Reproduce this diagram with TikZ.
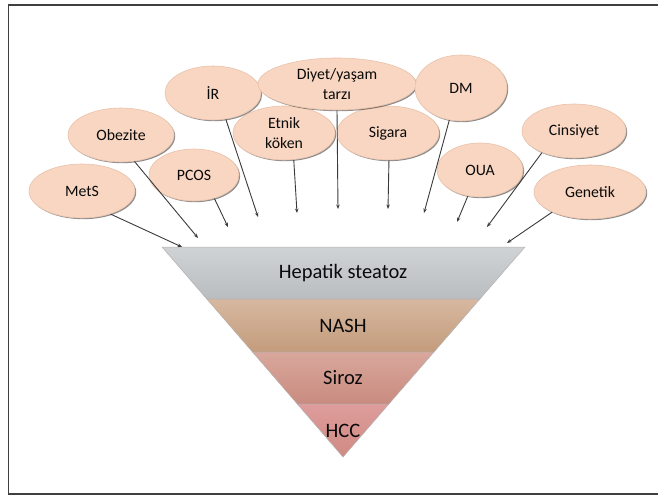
\documentclass[tikz,border=0pt]{standalone}
\usepackage{fontspec}
\setmainfont{Carlito}
\usetikzlibrary{shapes.geometric,shadows,arrows.meta}
\definecolor{peach}{HTML}{F8D6C1}
\definecolor{peachline}{HTML}{E9C2AB}
\definecolor{txt}{HTML}{0A0A0A}
\definecolor{lnc}{HTML}{3A3A3A}
\definecolor{gA}{HTML}{D0D3D5}\definecolor{gB}{HTML}{B9BDC0}
\definecolor{nA}{HTML}{D6B8A0}\definecolor{nB}{HTML}{C49C7C}
\definecolor{sA}{HTML}{D9A79C}\definecolor{sB}{HTML}{C98B7F}
\definecolor{hA}{HTML}{DE9C9C}\definecolor{hB}{HTML}{CF8B82}
\tikzset{
  factor/.style={ellipse, fill=peach, draw=peachline, line width=0.6pt, inner sep=0pt,
    text=txt, align=center, font=\fontsize{15.8}{20}\selectfont,
    drop shadow={shadow xshift=1.2pt, shadow yshift=-1.2pt, fill=black, opacity=0.45}},
  arr/.style={draw=lnc, line width=0.9pt, -{Stealth[length=4.5pt,width=3.5pt]}},
  band/.style={draw=gray!60, line width=0.5pt},
  bandtext/.style={text=txt, font=\fontsize{20.5}{24}\selectfont, inner sep=0pt}
}
\begin{document}
\begin{tikzpicture}[x=1pt,y=-1pt]
\useasboundingbox (0,0) rectangle (658,497);
% frame
\draw[line width=1.5pt, color=black!75] (662,5) -- (8.5,5) -- (8.5,494) -- (662,494);

% triangle bands
\path[band, top color=gA, bottom color=gB] (162,247) -- (525,247) -- (479.9,299) -- (206.8,299) -- cycle;
\path[band, top color=nA, bottom color=nB] (206.8,299) -- (479.9,299) -- (434,352) -- (252.5,352) -- cycle;
\path[band, top color=sA, bottom color=sB] (252.5,352) -- (434,352) -- (388.9,404) -- (297.3,404) -- cycle;
\path[band, top color=hA, bottom color=hB] (297.3,404) -- (388.9,404) -- (343,457) -- cycle;
\node[bandtext] (hs) at (343,273) {Hepatik steatoz};
\node[bandtext] (nash) at (343,326) {NASH};
\node[bandtext] (siroz) at (343,378) {Siroz};
\node[bandtext] (hcc) at (343,431) {HCC};

% factors
\node[factor, minimum width=106pt, minimum height=54pt] (mets) at (82,191) {MetS};
\node[factor, minimum width=106pt, minimum height=54pt] (obez) at (121,135) {Obezite};
\node[factor, minimum width=90pt, minimum height=52pt] (pcos) at (194,175) {PCOS};
\node[factor, minimum width=96pt, minimum height=54pt] (ir) at (213,93) {İR};
\node[factor, minimum width=102pt, minimum height=54pt] (etnik) at (284,133) {Etnik\\köken};
\node[factor, minimum width=102pt, minimum height=54pt] (sigara) at (388,133) {Sigara};
\node[factor, minimum width=158pt, minimum height=52pt] (diyet) at (337,84) {Diyet/yaşam\\tarzı};
\node[factor, minimum width=92pt, minimum height=66pt] (dm) at (461,88) {DM};
\node[factor, minimum width=86pt, minimum height=54pt] (oua) at (480,170) {OUA};
\node[factor, minimum width=104pt, minimum height=54pt] (cins) at (574,131) {Cinsiyet};
\node[factor, minimum width=112pt, minimum height=54pt] (gen) at (590,192) {Genetik};

% arrow end points
\coordinate (e1) at (182,247);
\coordinate (e2) at (198,238);
\coordinate (e3) at (228,227);
\coordinate (e4) at (258,217);
\coordinate (e5) at (297,213);
\coordinate (e6) at (338,209);
\coordinate (e7) at (388,209);
\coordinate (e8) at (424,213);
\coordinate (e9) at (457,222);
\coordinate (e10) at (487,227);
\coordinate (e11) at (507,243);

\draw[arr] (mets.-39) -- (e1);
\draw[arr] (obez.-63) -- (e2);
\draw[arr] (pcos.-49) -- (e3);
\draw[arr] (ir.-64) -- (e4);
\draw[arr] (etnik.-70) -- (e5);
\draw[arr] (diyet.-90) -- (e6);
\draw[arr] (sigara.-88) -- (e7);
\draw[arr] (dm.-110) -- (e8);
\draw[arr] (oua.-115) -- (e9);
\draw[arr] (cins.-146) -- (e10);
\draw[arr] (gen.-152) -- (e11);
\end{tikzpicture}
\end{document}
